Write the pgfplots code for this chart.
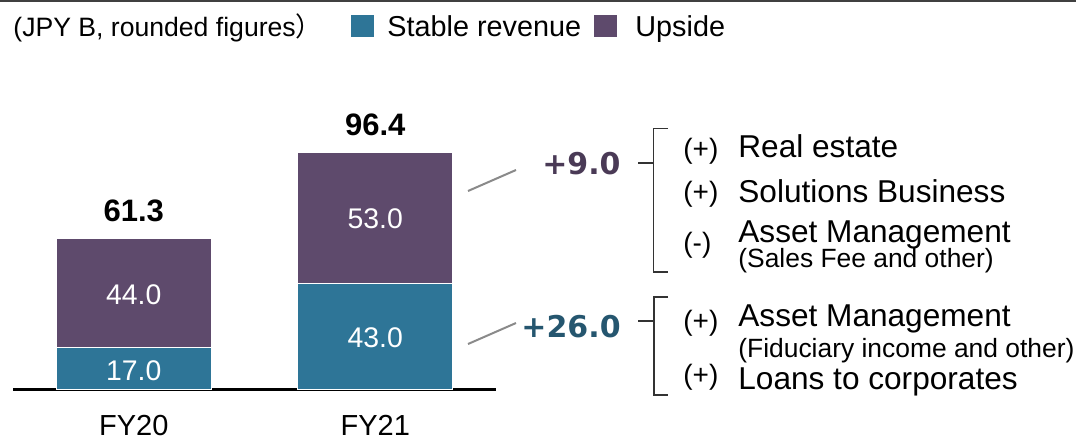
\documentclass[border=0pt]{standalone}
\usepackage{fontspec}
\setmainfont{Liberation Sans}
\newfontfamily\dvs{DejaVu Sans}
\newfontfamily\cjk{Noto Sans CJK JP}
\usepackage{pgfplots}
\pgfplotsset{compat=1.18}
\definecolor{stable}{HTML}{2E7597}
\definecolor{upside}{HTML}{5E4A6C}
\definecolor{updark}{HTML}{4A3A56}
\definecolor{stdark}{HTML}{25566F}
\definecolor{conn}{HTML}{8A8A8A}
\newcommand{\fs}[1]{\fontsize{#1}{#1}\selectfont}
\begin{document}
\begin{tikzpicture}
\useasboundingbox (0,0) rectangle (538pt,-220.5pt);
\begin{axis}[
  at={(6.5pt,-194.5pt)}, anchor=south west,
  scale only axis, width=241.5pt, height=122.5pt,
  xmin=-0.5, xmax=1.5, ymin=0, ymax=100,
  ybar stacked, bar width=77.5pt,
  hide y axis, axis x line=bottom,
  x axis line style={-, line width=1.5pt, black},
  xtick={0,1}, xticklabels={FY20,FY21},
  major tick length=0pt,
  xticklabel style={font=\fs{14.5pt}, anchor=north, inner sep=0pt, yshift=-13pt},
  clip=false]
\addplot[fill=stable, draw=white, line width=0.5pt] coordinates {(0,17.0) (1,43.0)};
\addplot[fill=upside, draw=white, line width=0.5pt] coordinates {(0,44.3) (1,53.4)};
\coordinate (a1) at (axis cs:0,7.3);
\coordinate (a2) at (axis cs:0,38.4);
\coordinate (b1) at (axis cs:1,20.8);
\coordinate (b2) at (axis cs:1,69.4);
\coordinate (ta) at (axis cs:0,72.9);
\coordinate (tb) at (axis cs:1,108);
\end{axis}
\node[text=white, font=\fs{14.2pt}, inner sep=0pt] at (a1) {17.0};
\node[text=white, font=\fs{14.2pt}, inner sep=0pt] at (a2) {44.0};
\node[text=white, font=\fs{14.2pt}, inner sep=0pt] at (b1) {43.0};
\node[text=white, font=\fs{14.2pt}, inner sep=0pt] at (b2) {53.0};
\node[font=\bfseries\fs{15.5pt}, inner sep=0pt] at (ta) {61.3};
\node[font=\bfseries\fs{15.5pt}, inner sep=0pt] at (tb) {96.4};
\begin{scope}[x=0.5pt,y=-0.5pt]
\draw[line width=1pt, black!75] (0,1)--(1076,1);
% legend
\fill[stable] (351,15) rectangle (374,37);
\fill[upside] (594,15) rectangle (617,37);
\node[anchor=base west, inner sep=0pt, font=\fs{14.4pt}] at (387,36) {Stable revenue};
\node[anchor=base west, inner sep=0pt, font=\fs{14.4pt}] at (635,36) {Upside};
\node[anchor=base west, inner sep=0pt, font=\fs{13.3pt}] at (13,36) {(JPY B, rounded figures\cjk{）}};
% connectors
\draw[conn, line width=1pt] (468,191)--(516,170);
\draw[conn, line width=1pt] (468,344)--(516,323);
\node[anchor=base east, inner sep=0pt, font=\dvs\bfseries\fs{15pt}, text=updark] at (621,174) {+9.0};
\node[anchor=base east, inner sep=0pt, font=\dvs\bfseries\fs{15pt}, text=stdark] at (621,337) {+26.0};
% brackets
\draw[line width=0.75pt, black!80] (668,128.5) -- (653.5,128.5) -- (653.5,272) -- (668,272);
\draw[line width=0.75pt, black!80] (638,163) -- (653.5,163);
\draw[line width=0.75pt, black!80] (668,297) -- (654,297) -- (654,395) -- (668,395);
\draw[line width=0.75pt, black!80] (638,321) -- (654,321);
% list
\begin{scope}[every node/.style={anchor=base west, inner sep=0pt}]
\node[font=\fs{14pt}] at (683,158) {(+)};
\node[font=\fs{15.8pt}] at (738,157) {Real estate};
\node[font=\fs{14pt}] at (683,201) {(+)};
\node[font=\fs{15.8pt}] at (738,202) {Solutions Business};
\node[font=\fs{14pt}] at (683,252) {(-)};
\node[font=\fs{15.8pt}] at (738,242) {Asset Management};
\node[font=\fs{13.2pt}] at (738,267) {(Sales Fee and other)};
\node[font=\fs{14pt}] at (683,330) {(+)};
\node[font=\fs{15.8pt}] at (738,326) {Asset Management};
\node[font=\fs{13.2pt}] at (738,357) {(Fiduciary income and other)};
\node[font=\fs{14pt}] at (683,384) {(+)};
\node[font=\fs{15.8pt}] at (738,389) {Loans to corporates};
\end{scope}
\end{scope}
\end{tikzpicture}
\end{document}
